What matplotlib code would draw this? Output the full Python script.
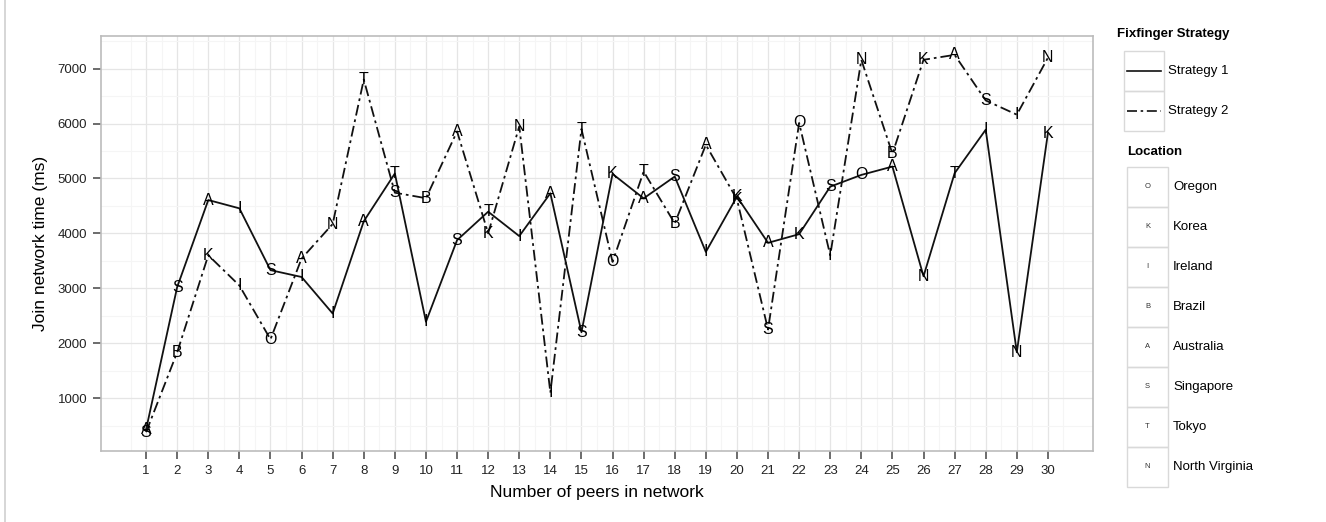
import numpy as np
import matplotlib
matplotlib.use("Agg")
import matplotlib.pyplot as plt
from matplotlib.patches import Rectangle
from matplotlib.lines import Line2D

plt.rcParams['font.family'] = ['Liberation Sans', 'DejaVu Sans']

peers = list(range(1, 31))

strategy1 = [430, 3022, 4607, 4455, 3330, 3205, 2540, 4220, 5090, 2390,
             3876, 4394, 3950, 4729, 2200, 5082, 4637, 5034, 3662, 4668,
             3827, 3985, 4850, 5064, 5216, 3218, 5095, 5887, 1834, 5826]
loc1 = ['A', 'S', 'A', 'I', 'S', 'I', 'I', 'A', 'T', 'I',
        'S', 'T', 'I', 'A', 'S', 'K', 'A', 'S', 'I', 'K',
        'A', 'K', 'S', 'O', 'A', 'N', 'T', 'I', 'N', 'K']

strategy2 = [380, 1834, 3601, 3050, 2070, 3541, 4170, 6800, 4740, 4640,
             5856, 4000, 5948, 1100, 5900, 3480, 5125, 4181, 5612, 4620,
             2250, 6010, 3600, 7160, 5450, 7160, 7250, 6420, 6161, 7197]
loc2 = ['S', 'B', 'K', 'I', 'O', 'A', 'N', 'T', 'S', 'B',
        'A', 'K', 'N', 'I', 'T', 'O', 'T', 'B', 'A', 'K',
        'S', 'O', 'I', 'N', 'B', 'K', 'A', 'S', 'I', 'N']

strategy_names = ['Strategy 1', 'Strategy 2']
location_codes = ['O', 'K', 'I', 'B', 'A', 'S', 'T', 'N']
location_names = ['Oregon', 'Korea', 'Ireland', 'Brazil', 'Australia',
                  'Singapore', 'Tokyo', 'North Virginia']

W, H = 1326, 522
fig = plt.figure(figsize=(W / 100, H / 100), dpi=100)
ax = fig.add_axes([101 / W, 1 - 451 / H, (1093 - 101) / W, (451 - 36) / H])

dashdot = (0, (6, 2.2, 1.5, 2.2))
ax.plot(peers, strategy1, color='#111111', lw=1.3, ls='-', zorder=3)
ax.plot(peers, strategy2, color='#111111', lw=1.3, ls=dashdot, zorder=3)
for x, y, s in zip(peers, strategy1, loc1):
    ax.text(x, y, s, ha='center', va='center', fontsize=11.5, zorder=4)
for x, y, s in zip(peers, strategy2, loc2):
    ax.text(x, y, s, ha='center', va='center', fontsize=11.5, zorder=4)

# ggplot style expansion of 5% on both axes
allv = strategy1 + strategy2
lo, hi = min(allv), max(allv)
pad = 0.05 * (hi - lo)
ax.set_ylim(lo - pad, hi + pad)
ax.set_xlim(1 - 0.05 * 29, 30 + 0.05 * 29)

ax.set_xticks(peers)
ax.set_xticks(np.arange(0.5, 31, 1), minor=True)
ax.set_yticks(range(1000, 8000, 1000))
ax.set_yticks(range(500, 8000, 1000), minor=True)
ax.grid(which='major', color='#e5e5e5', lw=0.9, zorder=0)
ax.grid(which='minor', color='#f5f5f5', lw=0.8, zorder=0)
ax.set_axisbelow(True)
for sp in ax.spines.values():
    sp.set_color('#bcbcbc')
    sp.set_linewidth(1.2)
ax.tick_params(which='major', length=6, width=1.1, color='#444444',
               labelsize=9.5, labelcolor='#222222', pad=4)
ax.tick_params(which='minor', length=0)
ax.set_xlabel('Number of peers in network', fontsize=12.5, labelpad=6)
ax.set_ylabel('Join network time (ms)', fontsize=12.5, labelpad=7)

# legends drawn in pixel coordinates on an overlay
lg = fig.add_axes([0, 0, 1, 1])
lg.set_xlim(0, W)
lg.set_ylim(H, 0)
lg.axis('off')
lg.patch.set_alpha(0)

lg.add_line(Line2D([5, 5], [0, H], color='#d0d0d0', lw=1.2))

lg.text(1117, 34, 'Fixfinger Strategy', fontsize=9.5, fontweight='bold',
        va='center', ha='left')
styles = ['-', dashdot]
for i, (name, st) in enumerate(zip(strategy_names, styles)):
    top = 51 + 40 * i
    lg.add_patch(Rectangle((1124, top), 40, 40, fill=False, ec='#d9d9d9', lw=1))
    lg.add_line(Line2D([1127, 1161], [top + 20, top + 20], color='#111111',
                       lw=1.2, ls=st))
    lg.text(1168, top + 20, name, fontsize=9.5, va='center', ha='left')

lg.text(1127, 152, 'Location', fontsize=9.5, fontweight='bold',
        va='center', ha='left')
for i, (code, name) in enumerate(zip(location_codes, location_names)):
    top = 167 + 40 * i
    lg.add_patch(Rectangle((1127, top), 41, 40, fill=False, ec='#d9d9d9', lw=1))
    lg.text(1147.5, top + 20, code, fontsize=5.5, va='center', ha='center',
            color='#333333')
    lg.text(1173, top + 20, name, fontsize=9.5, va='center', ha='left')

fig.savefig('out.png', dpi=100)
